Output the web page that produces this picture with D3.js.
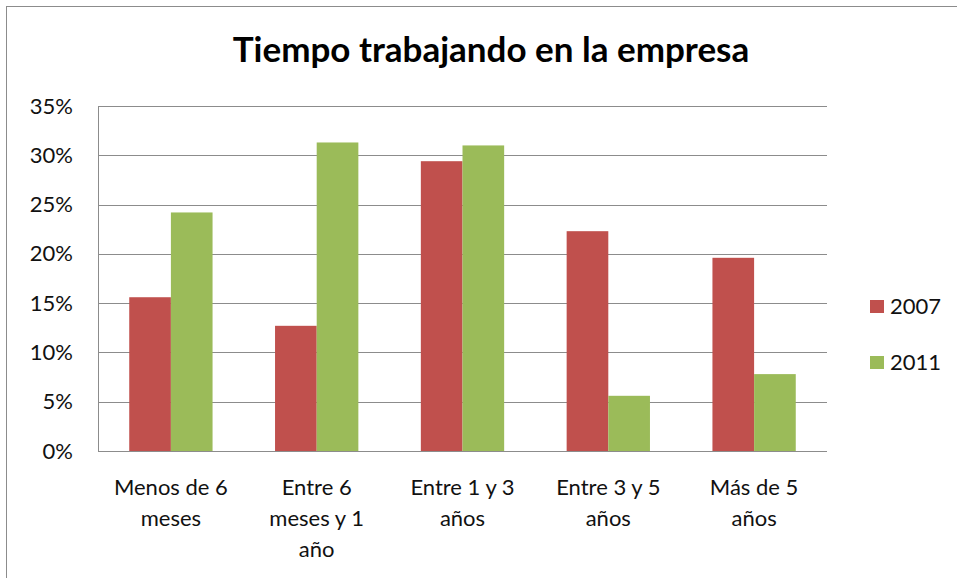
<!DOCTYPE html>
<html>
<head>
<meta charset="utf-8">
<script src="https://cdn.jsdelivr.net/npm/d3@7"></script>
<style>
  body { margin: 0; background: #fff; }
  text { font-family: Lato, "Open Sans", sans-serif; fill: #111; }
</style>
</head>
<body>
<div class="chart"></div>
<script>
const categories = [
    ['Menos de 6', 'meses'],
    ['Entre 6', 'meses y 1', 'año'],
    ['Entre 1 y 3', 'años'],
    ['Entre 3 y 5', 'años'],
    ['Más de 5', 'años']
];
const seriesNames = ['2007', '2011'];
const values2007 = [15.6, 12.7, 29.4, 22.3, 19.6];
const values2011 = [24.2, 31.3, 31.0, 5.6, 7.8];
const yTicks = [0, 5, 10, 15, 20, 25, 30, 35];
const colors = ['#C0504D', '#9BBB59'];

const W = 957, H = 578;
const margin = {top: 106, right: 130, bottom: 127, left: 98};
const width = W - margin.left - margin.right;
const height = H - margin.top - margin.bottom;

let root = d3.select('.chart')
    .append('svg')
        .attr('width', W)
        .attr('height', H);

// chart frame
root.append('rect')
    .attr('x', 6.5)
    .attr('y', 6.5)
    .attr('width', W + 10)
    .attr('height', H + 10)
    .style('fill', 'none')
    .style('stroke', '#8c8c8c');

root.append('text')
    .attr('x', 491)
    .attr('y', 62)
    .attr('text-anchor', 'middle')
    .style('font-size', '35px')
    .style('font-weight', 'bold')
    .style('fill', '#000')
    .text('Tiempo trabajando en la empresa');

let svg = root.append('g')
    .attr('transform', `translate(${margin.left}, ${margin.top})`);

let yScale = d3.scaleLinear()
    .domain([0, 35])
    .range([height, 0]);

let x0 = d3.scaleBand()
    .domain(d3.range(categories.length))
    .range([0, width])
    .paddingInner(0.75 / 1.75)
    .paddingOuter(0.375 / 1.75);

let x1 = d3.scaleBand()
    .domain(seriesNames)
    .range([0, x0.bandwidth()]);

// gridlines
svg.append('g')
    .selectAll('line')
    .data(yTicks.slice(1))
    .join('line')
        .attr('x1', 0)
        .attr('x2', width)
        .attr('y1', d => Math.round(yScale(d)) + 0.5)
        .attr('y2', d => Math.round(yScale(d)) + 0.5)
        .style('stroke', '#8c8c8c');

let yAxis = d3.axisLeft(yScale)
    .tickValues(yTicks)
    .tickFormat(d => d + '%')
    .tickSizeInner(0)
    .tickSizeOuter(0)
    .tickPadding(25);
let yg = svg.append('g').call(yAxis);
yg.selectAll('text').style('font-size', '22px').style('fill', '#111').style('font-family', 'Lato');
yg.selectAll('line, path').style('stroke', '#8c8c8c');

let series = [values2007, values2011];
series.forEach((vals, s) => {
    svg.append('g')
        .selectAll('rect')
        .data(vals)
        .join('rect')
            .attr('x', (d, i) => x0(i) + x1(seriesNames[s]))
            .attr('y', d => yScale(d))
            .attr('width', x1.bandwidth())
            .attr('height', d => height - yScale(d))
            .style('fill', colors[s]);
});

// x axis line
svg.append('line')
    .attr('x1', 0)
    .attr('x2', width)
    .attr('y1', height + 0.5)
    .attr('y2', height + 0.5)
    .style('stroke', '#8c8c8c');

let labels = svg.append('g')
    .selectAll('text')
    .data(categories)
    .join('text')
        .attr('x', (d, i) => x0(i) + x0.bandwidth() / 2)
        .attr('y', height + 44)
        .attr('text-anchor', 'middle')
        .style('font-size', '22px');
labels.selectAll('tspan')
    .data(d => d)
    .join('tspan')
        .attr('x', function() { return this.parentNode.getAttribute('x'); })
        .attr('dy', (d, i) => i === 0 ? 0 : 31)
        .text(d => d);

// legend
let legend = root.append('g')
    .selectAll('g')
    .data(seriesNames)
    .join('g')
        .attr('transform', (d, i) => `translate(870, ${300 + i * 56})`);
legend.append('rect')
    .attr('width', 14)
    .attr('height', 13)
    .style('fill', (d, i) => colors[i]);
legend.append('text')
    .attr('x', 20)
    .attr('y', 14)
    .style('font-size', '22px')
    .text(d => d);
</script>
</body>
</html>
